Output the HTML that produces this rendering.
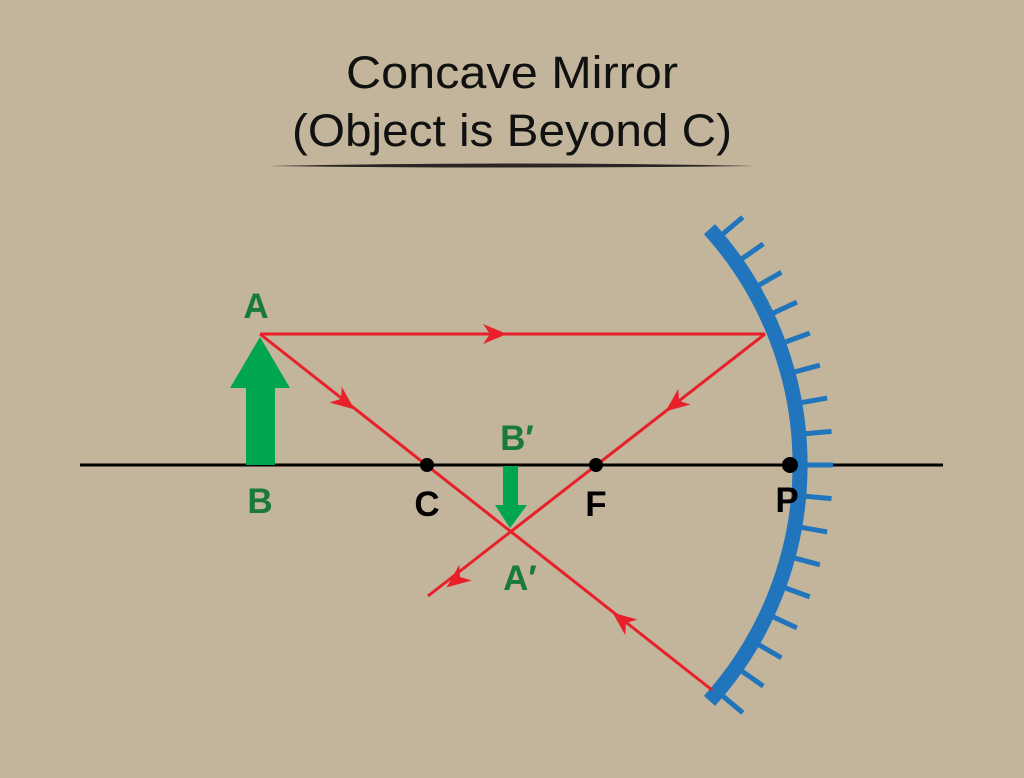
<!DOCTYPE html>
<html><head><meta charset="utf-8"><style>
html,body{margin:0;padding:0;background:#c2b59b;}
svg{display:block}
</style></head><body>
<svg width="1024" height="778" viewBox="0 0 1024 778" xmlns="http://www.w3.org/2000/svg">
<defs><path id="ah" d="M12,0 L-12,-10 L-5,0 L-12,10 Z" fill="#e8202a"/></defs>
<rect width="1024" height="778" fill="#c2b59b"/>
<g font-family="Liberation Sans, sans-serif" fill="#111">
<text x="512" y="88" font-size="45" text-anchor="middle" textLength="332" lengthAdjust="spacingAndGlyphs">Concave Mirror</text>
<text x="512" y="146" font-size="45" text-anchor="middle" textLength="440" lengthAdjust="spacingAndGlyphs">(Object is Beyond C)</text>
</g>
<path d="M268 166 Q512 161 756 166 Q512 169 268 166 Z" fill="#2a2522"/>
<line x1="80" y1="465" x2="943" y2="465" stroke="#000" stroke-width="3"/>
<path d="M 709.5 229.1 A 352.5 352.5 0 0 1 709.5 700.9" fill="none" stroke="#2075bd" stroke-width="15"/>
<g stroke="#2075bd" stroke-width="5">
<g id="t"><line x1="805" y1="465" x2="833" y2="465"/></g>
<use href="#t" transform="rotate(5 447.5 465)"/><use href="#t" transform="rotate(-5 447.5 465)"/>
<use href="#t" transform="rotate(10 447.5 465)"/><use href="#t" transform="rotate(-10 447.5 465)"/>
<use href="#t" transform="rotate(15 447.5 465)"/><use href="#t" transform="rotate(-15 447.5 465)"/>
<use href="#t" transform="rotate(20 447.5 465)"/><use href="#t" transform="rotate(-20 447.5 465)"/>
<use href="#t" transform="rotate(25 447.5 465)"/><use href="#t" transform="rotate(-25 447.5 465)"/>
<use href="#t" transform="rotate(30 447.5 465)"/><use href="#t" transform="rotate(-30 447.5 465)"/>
<use href="#t" transform="rotate(35 447.5 465)"/><use href="#t" transform="rotate(-35 447.5 465)"/>
<use href="#t" transform="rotate(40 447.5 465)"/><use href="#t" transform="rotate(-40 447.5 465)"/>
</g>
<g stroke="#e8202a" stroke-width="3" fill="none">
<line x1="260" y1="334" x2="765" y2="334"/>
<line x1="765" y1="334" x2="428" y2="596"/>
<line x1="260" y1="334" x2="712" y2="690"/>
</g>
<use href="#ah" transform="translate(495 334)"/>
<use href="#ah" transform="translate(345 402) rotate(38.2)"/>
<use href="#ah" transform="translate(675 404) rotate(142.2)"/>
<use href="#ah" transform="translate(456 580) rotate(142.2)"/>
<use href="#ah" transform="translate(622 620) rotate(218.2)"/>
<polygon points="246,465 246,388 230,388 260,337 290,388 275,388 275,465" fill="#00a550"/>
<polygon points="503,466 503,505 495,505 510,528 527,505 518,505 518,466" fill="#00a550"/>
<g fill="#000">
<circle cx="427" cy="465" r="7"/><circle cx="596" cy="465" r="7"/><circle cx="790" cy="465" r="8"/>
</g>
<g font-family="Liberation Sans, sans-serif" font-size="35" font-weight="bold" text-anchor="middle">
<text x="256" y="318" fill="#1a7a3a">A</text>
<text x="260" y="513" fill="#1a7a3a">B</text>
<text x="517" y="450" fill="#1a7a3a">B′</text>
<text x="520" y="590" fill="#1a7a3a">A′</text>
<text x="427" y="516" fill="#000">C</text>
<text x="596" y="516" fill="#000">F</text>
<text x="787" y="512" fill="#000">P</text>
</g>
</svg>
</body></html>
